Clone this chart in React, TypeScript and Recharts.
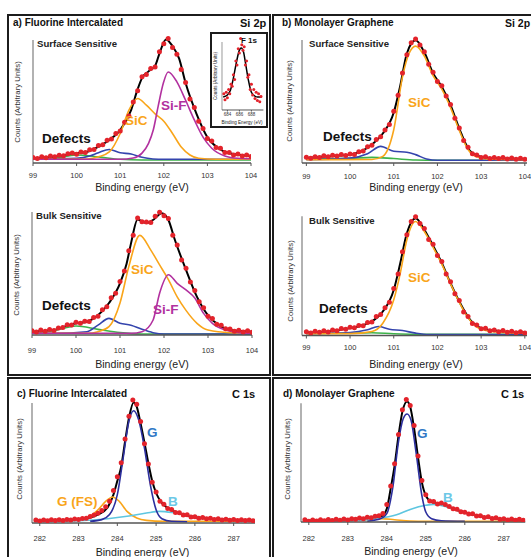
import React from 'react';
import { ComposedChart, Line, Scatter, XAxis, YAxis, ReferenceLine } from 'recharts';

type P = [number, number];
type Part = { d: P[]; c: string; w?: number };

const FONT = '"Liberation Sans", Arial, Helvetica, sans-serif';

const RED = '#e3232b';
const ORANGE = '#f9a51a';
const MAGENTA = '#b2319f';
const BLUE = '#3444ad';
const GREEN = '#3db34a';
const NAVY = '#2c2f9e';
const SKY = '#5ec6e0';

// ticks
const siTicks = [99, 100, 101, 102, 103, 104];
const cTicks = [282, 283, 284, 285, 286, 287];
const fTicks = [684, 686, 688];

// measured grids (eV)
const siGrid = [
  99.0, 99.1, 99.2, 99.3, 99.4, 99.5, 99.6, 99.7, 99.8, 99.9,
  100.0, 100.1, 100.2, 100.3, 100.4, 100.5, 100.6, 100.7, 100.8, 100.9,
  101.0, 101.1, 101.2, 101.3, 101.4, 101.5, 101.6, 101.7, 101.8, 101.9,
  102.0, 102.1, 102.2, 102.3, 102.4, 102.5, 102.6, 102.7, 102.8, 102.9,
  103.0, 103.1, 103.2, 103.3, 103.4, 103.5, 103.6, 103.7, 103.8, 103.9,
  104.0,
];
const cGrid = [
  281.9, 282.0, 282.1, 282.2, 282.3, 282.4, 282.5, 282.6, 282.7, 282.8,
  282.9, 283.0, 283.1, 283.2, 283.3, 283.4, 283.5, 283.6, 283.7, 283.8,
  283.9, 284.0, 284.1, 284.2, 284.3, 284.4, 284.5, 284.6, 284.7, 284.8,
  284.9, 285.0, 285.1, 285.2, 285.3, 285.4, 285.5, 285.6, 285.7, 285.8,
  285.9, 286.0, 286.1, 286.2, 286.3, 286.4, 286.5, 286.6, 286.7, 286.8,
  286.9, 287.0, 287.1, 287.2, 287.3, 287.4, 287.5,
];
const fGrid = [
  683.4, 683.6, 683.8, 684.0, 684.2, 684.4, 684.6, 684.8, 685.0, 685.2,
  685.4, 685.6, 685.8, 686.0, 686.2, 686.4, 686.6, 686.8, 687.0, 687.2,
  687.4, 687.6, 687.8, 688.0, 688.2, 688.4, 688.6, 688.8, 689.0, 689.2,
  689.4, 689.6,
];

// a) fluorine intercalated, Si 2p, surface sensitive
const aSurfPts = [
  4.5, 3.6, 5.0, 4.2, 5.6, 5.0, 6.4, 5.8, 7.5, 8.1,
  7.2, 9.0, 8.5, 10.8, 11.0, 14.2, 14.8, 18.4, 19.5, 24.0,
  26.0, 33.1, 38.2, 49.5, 58.8, 70.2, 72.0, 76.8, 78.0, 90.5,
  97.0, 101.2, 94.0, 88.5, 76.0, 65.5, 52.0, 45.2, 34.0, 28.1,
  20.0, 17.8, 12.6, 11.9, 8.5, 8.6, 6.5, 7.3, 5.6, 6.5,
  5.2,
];
const aSurfFit: P[] = [[99, 3.8], [99.5, 5.1], [100, 7.9], [100.25, 9.2], [100.5, 13.3], [100.75, 18.7], [101, 26.8], [101.25, 43], [101.4, 60], [101.5, 69], [101.65, 74.5], [101.8, 79], [101.9, 89], [102.05, 100.5], [102.2, 95], [102.35, 85], [102.5, 65], [102.75, 40], [103, 21], [103.25, 12], [103.5, 7.9], [104, 5.7]];
const aSurfSiC: P[] = [[99, 3], [100.25, 3.3], [100.5, 5], [100.75, 9], [101, 24], [101.2, 43], [101.4, 52.5], [101.6, 47], [101.8, 40], [102, 34], [102.2, 24], [102.4, 13], [102.6, 6.5], [102.8, 3.8], [103.2, 3], [104, 3]];
const aSurfSiF: P[] = [[99, 3], [101, 3], [101.3, 4], [101.5, 8], [101.65, 16], [101.76, 27], [101.87, 46], [101.99, 65], [102.1, 74], [102.3, 66], [102.5, 51], [102.7, 35], [102.9, 21], [103.1, 12], [103.4, 5.7], [103.7, 3.8], [104, 3.4]];
const aSurfDef: P[] = [[99, 3], [100, 3.8], [100.3, 5.7], [100.5, 8.4], [100.75, 11], [101, 8.4], [101.25, 7.3], [101.5, 4.6], [101.75, 3.3], [102, 3], [104, 3]];
const aSurfGrn: P[] = [[99, 3], [99.5, 3.8], [100, 6.5], [100.5, 5], [101, 3], [101.5, 2.4], [104, 2.4]];

// a) fluorine intercalated, Si 2p, bulk sensitive
const aBulkPts = [
  3.4, 2.5, 4.0, 3.1, 4.5, 3.7, 5.6, 6.0, 8.3, 8.2,
  10.4, 9.6, 11.2, 11.0, 14.3, 15.2, 20.5, 23.0, 30.2, 34.0,
  43.5, 52.0, 68.4, 81.0, 95.2, 92.0, 91.8, 91.5, 96.6, 99.8,
  97.0, 94.8, 81.0, 73.2, 61.0, 54.3, 43.0, 36.2, 27.0, 22.1,
  15.2, 13.4, 8.8, 8.0, 5.0, 4.9, 3.0, 3.8, 2.5, 3.4,
  2.2,
];
const aBulkFit: P[] = [[99, 2.7], [99.5, 4], [99.8, 7.5], [100, 9.5], [100.25, 10.8], [100.5, 16], [100.75, 26], [101, 42], [101.15, 58], [101.25, 74.5], [101.4, 94], [101.6, 91], [101.75, 93.5], [101.95, 99], [102.1, 93.5], [102.25, 77], [102.5, 53], [102.75, 31], [103, 16], [103.25, 8], [103.5, 4], [104, 2.7]];
const aBulkSiC: P[] = [[99, 1.4], [100.25, 1.4], [100.5, 2.7], [100.75, 6.8], [101, 26], [101.2, 55.6], [101.45, 81], [101.7, 69], [101.9, 57], [102.1, 45], [102.3, 31], [102.5, 20], [102.75, 9.5], [103, 4], [103.5, 1.9], [104, 1.6]];
const aBulkSiF: P[] = [[99, 1.4], [101.25, 1.4], [101.5, 2.7], [101.75, 12], [101.9, 34], [102.1, 49], [102.3, 42], [102.5, 36.6], [102.7, 30], [102.9, 17.6], [103.1, 9.5], [103.4, 4], [103.7, 1.9], [104, 1.4]];
const aBulkDef: P[] = [[99, 1.4], [99.5, 1.4], [100.25, 2.7], [100.5, 8], [100.75, 13.5], [101, 9.5], [101.25, 8], [101.5, 4.6], [101.75, 1.9], [102, 0.8], [104, 0.8]];
const aBulkGrn: P[] = [[99, 1.4], [99.5, 3.5], [100, 7.3], [100.5, 4.6], [101, 1.9], [101.5, 0.8], [104, 0.8]];

// inset, F 1s
const fPts = [
  24, 15, 26, 18, 30, 24, 38, 35, 52, 45,
  72, 66, 90, 84, 105, 96, 88, 93, 66, 72,
  48, 52, 30, 38, 22, 30, 17, 26, 14, 24,
  12, 20,
];
const fFit: P[] = [[683.3, 19], [684, 22], [684.5, 29], [685, 47], [685.5, 70], [686, 88], [686.3, 91], [686.7, 85], [687, 70], [687.5, 44], [688, 26], [688.5, 21], [689, 19], [689.7, 19]];

// b) monolayer graphene, Si 2p, surface sensitive
const bSurfPts = [
  4.6, 3.8, 5.1, 4.5, 5.9, 5.0, 6.2, 5.6, 6.9, 6.1,
  7.4, 7.0, 9.1, 9.8, 13.2, 14.4, 19.2, 21.3, 26.8, 31.2,
  42.0, 55.0, 73.1, 88.0, 97.8, 100.8, 96.0, 90.5, 80.2, 73.8,
  66.2, 62.8, 54.5, 47.6, 36.4, 28.5, 18.2, 12.8, 7.5, 6.6,
  4.4, 5.0, 3.6, 4.5, 3.7, 4.4, 3.2, 4.0, 3.1, 3.8,
  3.0,
];
const bSurfFit: P[] = [[99, 4], [99.5, 5.4], [100, 6.8], [100.25, 9.4], [100.5, 15], [100.75, 24], [101, 41], [101.15, 63], [101.3, 89], [101.5, 99.7], [101.7, 90], [101.9, 73], [102.1, 62], [102.3, 47], [102.5, 28], [102.7, 12], [102.9, 6], [103.2, 4], [103.6, 3.6], [104, 3.3]];
const bSurfSiC: P[] = [[99, 2.7], [100.5, 2.8], [100.75, 5.4], [101, 27], [101.2, 70], [101.35, 89], [101.5, 95], [101.7, 87], [101.9, 71], [102.1, 60], [102.3, 45], [102.5, 26.5], [102.7, 11], [102.9, 5], [103.2, 3], [104, 2.7]];
const bSurfDef: P[] = [[99, 2.7], [100, 4], [100.4, 7.6], [100.7, 13.5], [101, 9.5], [101.3, 8.7], [101.5, 6.8], [101.75, 3.3], [102, 2.2], [104, 2.2]];
const bSurfGrn: P[] = [[99, 3.3], [100, 3.8], [100.5, 4.6], [101, 3.6], [101.5, 2.4], [102, 2.2], [104, 2.2]];

// b) monolayer graphene, Si 2p, bulk sensitive
const bBulkPts = [
  3.0, 2.0, 3.5, 2.6, 3.9, 2.9, 4.5, 3.9, 5.6, 5.0,
  6.8, 6.2, 8.2, 8.0, 10.6, 11.0, 15.4, 17.0, 22.6, 27.0,
  38.2, 50.0, 68.1, 82.0, 92.6, 96.5, 91.0, 87.0, 78.0, 74.2,
  65.0, 60.1, 50.0, 43.6, 34.0, 28.5, 19.2, 15.4, 9.8, 8.6,
  5.4, 5.8, 3.8, 4.5, 3.0, 4.0, 2.6, 3.4, 2.2, 3.0,
  2.0,
];
const bBulkFit: P[] = [[99, 2.4], [99.5, 3.3], [100, 6], [100.25, 7.9], [100.5, 11.4], [100.75, 19.5], [101, 37], [101.15, 59], [101.3, 83], [101.5, 95.4], [101.7, 86], [101.9, 73], [102.1, 59], [102.3, 42.5], [102.5, 27.6], [102.75, 12.7], [103, 6], [103.5, 3.3], [104, 2.4]];
const bBulkSiC: P[] = [[99, 1.4], [100, 1.5], [100.5, 3.3], [100.75, 10], [101, 29], [101.15, 50.7], [101.3, 77.8], [101.5, 92.7], [101.7, 84.6], [101.9, 71.8], [102.1, 58], [102.3, 42], [102.5, 27], [102.75, 12.2], [103, 5.1], [103.5, 2.4], [104, 1.9]];
const bBulkDef: P[] = [[99, 1.4], [100, 2.4], [100.4, 4.6], [100.65, 7.3], [100.9, 5.1], [101.2, 4], [101.5, 1.9], [101.8, 0.8], [104, 0.8]];
const bBulkGrn: P[] = [[99, 1.6], [100, 1.8], [100.5, 2.2], [101, 1.4], [101.5, 1.0], [104, 0.9]];

// c) fluorine intercalated, C 1s
const cPts = [
  2.6, 1.6, 2.4, 1.8, 2.7, 2.0, 2.8, 2.1, 3.0, 2.4,
  3.3, 2.9, 3.8, 4.0, 5.5, 6.6, 8.2, 10.5, 13.5, 18.2,
  27.0, 38.5, 50.2, 70.0, 89.0, 102.5, 99.0, 84.5, 66.0, 49.2,
  34.0, 25.8, 18.2, 15.6, 12.0, 11.2, 8.8, 8.5, 6.6, 6.8,
  5.0, 5.2, 4.0, 4.6, 3.5, 3.9, 3.0, 3.6, 2.6, 3.2,
  2.3, 2.9, 2.1, 2.7, 2.0, 2.6, 1.9,
];
const cFit: P[] = [[281.85, 1.9], [282.5, 2.2], [283, 2.8], [283.25, 4.2], [283.5, 7], [283.75, 13], [283.9, 23.6], [284, 35], [284.1, 47], [284.2, 68], [284.3, 87.5], [284.42, 100.5], [284.5, 97], [284.6, 83], [284.7, 67], [284.8, 50], [284.9, 35], [285, 25], [285.15, 16.7], [285.3, 12.5], [285.5, 9.2], [285.75, 6.4], [286, 4.7], [286.5, 3.3], [287, 2.5], [287.5, 2.2]];
const cG: P[] = [[283.3, 1.4], [283.6, 2.8], [283.8, 7], [284, 23.6], [284.15, 54], [284.3, 85], [284.42, 93.6], [284.55, 86], [284.7, 62.5], [284.85, 32], [285, 11], [285.15, 3.6], [285.4, 1.4], [285.8, 1.1]];
const cGfs: P[] = [[281.85, 1.4], [282.5, 1.4], [283, 2.5], [283.25, 4.7], [283.5, 11], [283.7, 18], [283.88, 21.7], [284.05, 18], [284.25, 9.7], [284.5, 4.2], [284.75, 2.2], [285.2, 1.4], [287.5, 1.4]];
const cB: P[] = [[281.85, 1.1], [283, 1.9], [283.75, 3.6], [284.25, 5.6], [284.75, 8.3], [285.1, 9.7], [285.5, 8.3], [286, 5.6], [286.5, 3.6], [287, 2.5], [287.5, 1.9]];

// d) monolayer graphene, C 1s
const dPts = [
  1.8, 0.7, 1.7, 0.9, 1.9, 1.0, 2.0, 1.2, 2.2, 1.4,
  2.5, 1.6, 2.8, 2.2, 3.4, 2.8, 4.0, 3.5, 4.8, 5.2,
  7.0, 14.5, 30.0, 48.5, 73.0, 93.5, 102.0, 97.0, 80.5, 55.0,
  34.5, 22.8, 17.5, 17.0, 15.0, 15.8, 14.6, 13.0, 11.0, 10.6,
  8.5, 8.2, 6.6, 6.8, 5.0, 5.3, 3.8, 4.3, 3.0, 3.5,
  2.3, 2.8, 1.7, 2.5, 1.5, 2.3, 1.4,
];
const dFit: P[] = [[281.85, 1.1], [282.5, 1.4], [283, 1.9], [283.5, 3.3], [283.8, 4.3], [283.9, 5.5], [284, 11], [284.1, 28], [284.2, 47], [284.3, 72], [284.4, 92], [284.52, 100.5], [284.6, 96], [284.7, 78], [284.8, 54], [284.9, 33], [285, 22], [285.15, 16.7], [285.35, 15.3], [285.6, 12.5], [286, 7.8], [286.5, 4.2], [287, 2.2], [287.5, 1.7]];
const dG: P[] = [[283.5, 0.6], [283.8, 2.2], [284, 7], [284.15, 28], [284.3, 67], [284.42, 86], [284.52, 90], [284.62, 85], [284.75, 58], [284.9, 22], [285, 8.3], [285.15, 2.8], [285.4, 1.1], [286, 0.6]];
const dB: P[] = [[281.85, 0.6], [283, 1.1], [283.75, 2.8], [284.25, 6], [284.6, 10.5], [285, 13.9], [285.2, 14.7], [285.5, 13], [285.75, 10.5], [286, 7.8], [286.5, 4.2], [287, 2.2], [287.5, 1.4]];
const dGfs: P[] = [[281.85, 0.6], [283, 1.1], [283.5, 1.9], [283.85, 2.8], [284.2, 1.9], [284.6, 0.8], [285, 0.6], [287.5, 0.6]];

const rows = (a: P[]) => a.map(([x, y]) => ({ x, y }));
const zip = (xs: number[], ys: number[]) => xs.map((x, i) => ({ x, y: ys[i] }));

function Plot(props: {
  x0: number; x1: number; base: number; top: number; ppu: number;
  dom: [number, number]; ticks: number[]; axisTop: number;
  pts: { x: number; y: number }[]; fit: P[]; parts: Part[];
  r?: number; fs?: number; tm?: number; ts?: number; fw?: number; aw?: number;
}) {
  const { x0, x1, base, top, ppu, dom, ticks, axisTop, pts, fit, parts } = props;
  const r = props.r ?? 2.5;
  const fs = props.fs ?? 7.5;
  const tm = props.tm ?? 7;
  const ts = props.ts ?? 3;
  const fw = props.fw ?? 2;
  const aw = props.aw ?? 1.5;
  const pad = 14;
  const xh = 24;
  const yMax = (base - top) / ppu;
  return (
    <div style={{ position: 'absolute', left: x0 - pad, top }}>
      <ComposedChart
        width={x1 - x0 + pad * 2}
        height={base - top + xh}
        margin={{ top: 0, right: pad, bottom: 0, left: pad }}
      >
        <XAxis
          dataKey="x"
          type="number"
          domain={dom}
          ticks={ticks}
          interval={0}
          allowDataOverflow
          height={xh}
          tick={{ fontSize: fs, fill: '#333', fontFamily: FONT }}
          tickSize={ts}
          tickMargin={tm}
          axisLine={{ stroke: '#555', strokeWidth: aw }}
          tickLine={{ stroke: '#555', strokeWidth: 1 }}
        />
        <YAxis dataKey="y" type="number" domain={[0, yMax]} allowDataOverflow hide />
        <ReferenceLine
          segment={[{ x: dom[0], y: 0 }, { x: dom[0], y: axisTop }]}
          stroke="#999"
          strokeWidth={aw}
          ifOverflow="visible"
        />
        <Scatter
          data={pts}
          fill={RED}
          isAnimationActive={false}
          shape={(p: any) => <circle cx={p.cx} cy={p.cy} r={r} fill={RED} />}
        />
        <Line data={rows(fit)} dataKey="y" type="monotone" stroke="#000" strokeWidth={fw} dot={false} isAnimationActive={false} />
        {parts.map((s, i) => (
          <Line
            key={i}
            data={rows(s.d)}
            dataKey="y"
            type="monotone"
            stroke={s.c}
            strokeWidth={s.w ?? 1.6}
            dot={false}
            isAnimationActive={false}
          />
        ))}
      </ComposedChart>
    </div>
  );
}

// left-anchored text, y is the vertical centre
function T({ x, y, s, c = '#111', w = 700, children }: any) {
  return (
    <div
      style={{
        position: 'absolute', left: x, top: y, transform: 'translateY(-50%)',
        fontSize: s, color: c, fontWeight: w, lineHeight: 1, whiteSpace: 'nowrap', fontFamily: FONT,
      }}
    >
      {children}
    </div>
  );
}

// centred text, optionally rotated
function M({ x, y, s, c = '#222', w = 400, rot = false, children }: any) {
  return (
    <div
      style={{
        position: 'absolute', left: x, top: y,
        transform: `translate(-50%, -50%)${rot ? ' rotate(-90deg)' : ''}`,
        fontSize: s, color: c, fontWeight: w, lineHeight: 1, whiteSpace: 'nowrap', fontFamily: FONT,
      }}
    >
      {children}
    </div>
  );
}

const box = (left: number, top: number, width: number, height: number, bw = 2): React.CSSProperties => ({
  position: 'absolute', left, top, width, height, boxSizing: 'border-box', border: `${bw}px solid #1c1c1c`,
});

export default function App() {
  const ylab = 'Counts (Arbitrary Units)';
  const xlab = 'Binding energy (eV)';
  return (
    <div style={{ position: 'absolute', left: 0, top: 0, width: 531, height: 557, overflow: 'hidden', background: '#fff', fontFamily: FONT }}>
      <div style={box(7, 14, 264, 362)} />
      <div style={box(272, 14, 270, 362)} />
      <div style={box(7, 377, 264, 200)} />
      <div style={box(272, 377, 270, 200)} />

      <Plot x0={33} x1={251} base={163} top={30} ppu={1.23} dom={[99, 104]} ticks={siTicks} axisTop={100} tm={7}
        pts={zip(siGrid, aSurfPts)} fit={aSurfFit}
        parts={[{ d: aSurfGrn, c: GREEN }, { d: aSurfDef, c: BLUE }, { d: aSurfSiC, c: ORANGE }, { d: aSurfSiF, c: MAGENTA }]} />
      <Plot x0={32} x1={252} base={335} top={200} ppu={1.23} dom={[99, 104]} ticks={siTicks} axisTop={100} tm={10}
        pts={zip(siGrid, aBulkPts)} fit={aBulkFit}
        parts={[{ d: aBulkGrn, c: GREEN }, { d: aBulkDef, c: BLUE }, { d: aBulkSiC, c: ORANGE }, { d: aBulkSiF, c: MAGENTA }]} />
      <Plot x0={302} x1={527} base={163} top={30} ppu={1.23} dom={[98.9, 104.05]} ticks={siTicks} axisTop={100} tm={8}
        pts={zip(siGrid, bSurfPts)} fit={bSurfFit}
        parts={[{ d: bSurfGrn, c: GREEN }, { d: bSurfDef, c: BLUE }, { d: bSurfSiC, c: ORANGE }]} />
      <Plot x0={302} x1={527} base={335.5} top={200} ppu={1.23} dom={[98.9, 104.05]} ticks={siTicks} axisTop={97} tm={6}
        pts={zip(siGrid, bBulkPts)} fit={bBulkFit}
        parts={[{ d: bBulkGrn, c: GREEN }, { d: bBulkDef, c: BLUE }, { d: bBulkSiC, c: ORANGE }]} />
      <Plot x0={32} x1={255} base={523} top={396} ppu={1.2} dom={[281.8, 287.55]} ticks={cTicks} axisTop={100} tm={10}
        pts={zip(cGrid, cPts)} fit={cFit}
        parts={[{ d: cGfs, c: ORANGE }, { d: cB, c: SKY }, { d: cG, c: NAVY }]} />
      <Plot x0={300.5} x1={524.75} base={522} top={396} ppu={1.2} dom={[281.8, 287.55]} ticks={cTicks} axisTop={99} tm={11}
        pts={zip(cGrid, dPts)} fit={dFit}
        parts={[{ d: dGfs, c: ORANGE }, { d: dB, c: SKY }, { d: dG, c: NAVY }]} />

      {/* F 1s inset */}
      <div style={{ ...box(210, 32, 58, 96), background: '#fff' }} />
      <Plot x0={221.6} x1={263} base={110} top={34} ppu={0.68} dom={[683.1, 690]} ticks={fTicks} axisTop={100}
        r={1.5} fs={4.5} tm={1} ts={1.5} fw={1.5} aw={1}
        pts={zip(fGrid, fPts)} fit={fFit} parts={[]} />
      <M x={242} y={123} s={4.6}>Binding Energy (eV)</M>
      <M x={215.5} y={76} s={4.6} rot>{ylab}</M>
      <T x={241} y={41} s={8}>F 1s</T>

      {/* titles */}
      <T x={13} y={23} s={10}>a) Fluorine Intercalated</T>
      <T x={240} y={23} s={11}>Si 2p</T>
      <T x={282} y={23} s={10}>b) Monolayer Graphene</T>
      <T x={505} y={23} s={10.5}>Si 2p</T>
      <T x={17} y={394} s={10}>c) Fluorine Intercalated</T>
      <T x={232} y={394} s={11}>C 1s</T>
      <T x={283} y={394} s={10}>d) Monolayer Graphene</T>
      <T x={501} y={394} s={11}>C 1s</T>

      {/* a */}
      <T x={37} y={44} s={9.6} c="#222">Surface Sensitive</T>
      <T x={42} y={139} s={13.5}>Defects</T>
      <T x={125} y={121} s={13.5} c={ORANGE}>SiC</T>
      <T x={161} y={106} s={13.5} c={MAGENTA}>Si-F</T>
      <T x={36} y={215.5} s={9.6} c="#222">Bulk Sensitive</T>
      <T x={42} y={306} s={13.5}>Defects</T>
      <T x={131} y={270} s={13.5} c={ORANGE}>SiC</T>
      <T x={153} y={310} s={13.5} c={MAGENTA}>Si-F</T>

      {/* b */}
      <T x={309} y={44} s={9.6} c="#222">Surface Sensitive</T>
      <T x={323} y={137} s={13.5}>Defects</T>
      <T x={408} y={103} s={13.5} c={ORANGE}>SiC</T>
      <T x={309} y={221} s={9.6} c="#222">Bulk Sensitive</T>
      <T x={319} y={309} s={13.5}>Defects</T>
      <T x={408} y={278} s={13.5} c={ORANGE}>SiC</T>

      {/* c, d */}
      <T x={147} y={433} s={13.5} c="#2f78c6">G</T>
      <T x={57} y={502} s={13.5} c={ORANGE}>G (FS)</T>
      <T x={168} y={502} s={13.5} c="#6cc8e6">B</T>
      <T x={417} y={434} s={13.5} c="#2f78c6">G</T>
      <T x={443} y={498} s={13.5} c="#6cc8e6">B</T>

      {/* axis titles */}
      <M x={142} y={187} s={10.6}>{xlab}</M>
      <M x={142} y={364} s={10.6}>{xlab}</M>
      <M x={416} y={187} s={10.6}>{xlab}</M>
      <M x={416} y={364} s={10.6}>{xlab}</M>
      <M x={142.5} y={552} s={10.6}>{xlab}</M>
      <M x={411} y={551} s={10.6}>{xlab}</M>

      <M x={18} y={102} s={7.8} c="#333" rot>{ylab}</M>
      <M x={17} y={275} s={7.8} c="#333" rot>{ylab}</M>
      <M x={290} y={101} s={7.8} c="#333" rot>{ylab}</M>
      <M x={291} y={281} s={7.8} c="#333" rot>{ylab}</M>
      <M x={20} y={459} s={7.8} c="#333" rot>{ylab}</M>
      <M x={288} y={459} s={7.8} c="#333" rot>{ylab}</M>
    </div>
  );
}
